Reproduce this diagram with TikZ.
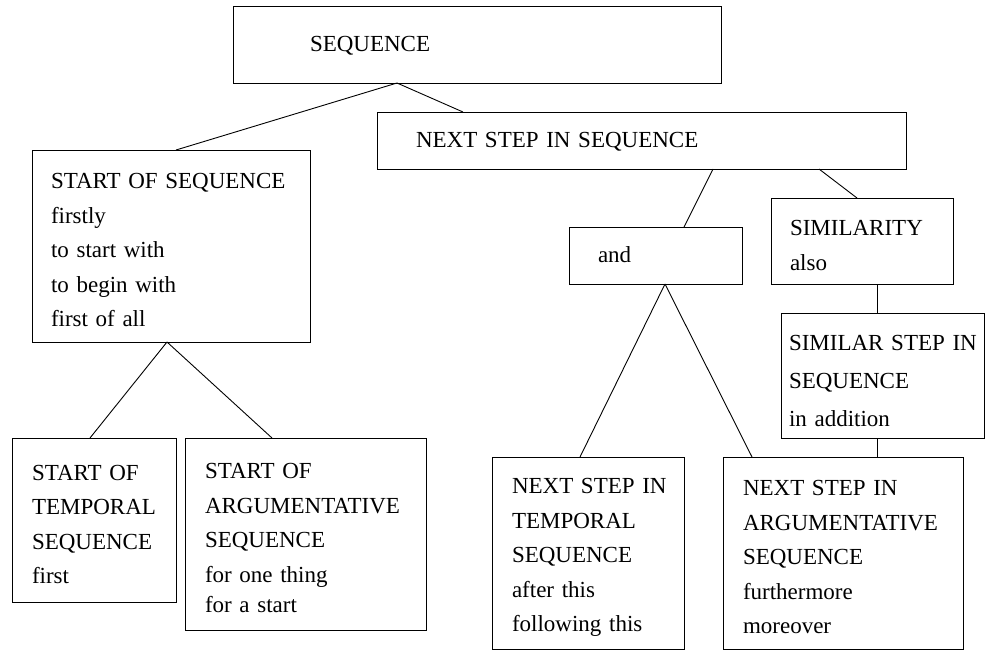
\documentclass[tikz,border=0pt]{standalone}
\usepackage{fontspec}
\setmainfont{Liberation Serif}
\usetikzlibrary{calc}

\begin{document}
\begin{tikzpicture}[
    x=1pt, y=-1pt,
    every node/.style={font=\fontsize{23}{34.5}\selectfont},
    box/.style={draw, line width=0.9pt, anchor=north west, align=left,
                inner ysep=0pt, outer sep=0pt,
                execute at begin node={\rightskip=0pt plus 1fil minus 50pt\strut}},
    link/.style={line width=0.9pt},
]

\useasboundingbox (0,0) rectangle (985,651);

% === Top level ===
\node[box, inner xsep=77pt, text width=334pt, minimum height=77pt] (seq) at (233,6) {SEQUENCE};
\node[box, inner xsep=39pt, text width=451pt, minimum height=57pt] (next) at (377,112) {NEXT STEP IN SEQUENCE};

% === Start of sequence branch ===
\node[box, inner xsep=19pt, text width=240pt, minimum height=192pt] (start) at (32,150)
    {START OF SEQUENCE\\firstly\\to start with\\to begin with\\first of all};
\node[box, inner xsep=20pt, text width=124pt, minimum height=164pt] (stemp) at (12,438)
    {START OF\\TEMPORAL\\SEQUENCE\\first};
\node[box, inner xsep=20pt, text width=201pt, minimum height=192pt] (sarg) at (185,438)
    {START OF\\ARGUMENTATIVE\\SEQUENCE\\for one thing\\[-4pt]for a start};

% === Next step branch ===
\node[box, inner xsep=29pt, text width=115pt, minimum height=57pt] (and) at (569,227) {and};
\node[box, inner xsep=19pt, text width=144pt, minimum height=86pt] (sim) at (771,198)
    {SIMILARITY\\also};
\node[box, inner xsep=8pt, text width=187pt, minimum height=125pt,
      font=\fontsize{23}{38}\selectfont] (simstep) at (781,313)
    {SIMILAR STEP IN\\SEQUENCE\\in addition};
\node[box, inner xsep=20pt, text width=152pt, minimum height=192pt] (ntemp) at (492,457)
    {NEXT STEP IN\\TEMPORAL\\SEQUENCE\\after this\\following this};
\node[box, inner xsep=20pt, text width=200pt, minimum height=192pt] (narg) at (723,457)
    {NEXT STEP IN\\ARGUMENTATIVE\\SEQUENCE\\furthermore\\moreover};

% === Connectors ===
\draw[link] ($(seq.south west)+(164,0)$) -- ($(start.north west)+(144,0)$);
\draw[link] ($(seq.south west)+(164,0)$) -- ($(next.north west)+(86,0)$);
\draw[link] ($(start.south west)+(135,0)$) -- ($(stemp.north west)+(78,0)$);
\draw[link] ($(start.south west)+(135,0)$) -- ($(sarg.north west)+(87,0)$);
\draw[link] ($(next.south west)+(336,0)$) -- ($(and.north west)+(115,0)$);
\draw[link] ($(next.south west)+(442,0)$) -- ($(sim.north west)+(86,0)$);
\draw[link] ($(sim.south west)+(106,0)$) -- ($(simstep.north west)+(96,0)$);
\draw[link] ($(and.south west)+(96,0)$) -- ($(ntemp.north west)+(88,0)$);
\draw[link] ($(and.south west)+(96,0)$) -- ($(narg.north west)+(29,0)$);
\draw[link] ($(simstep.south west)+(96,0)$) -- ($(narg.north west)+(154,0)$);

\end{tikzpicture}
\end{document}
